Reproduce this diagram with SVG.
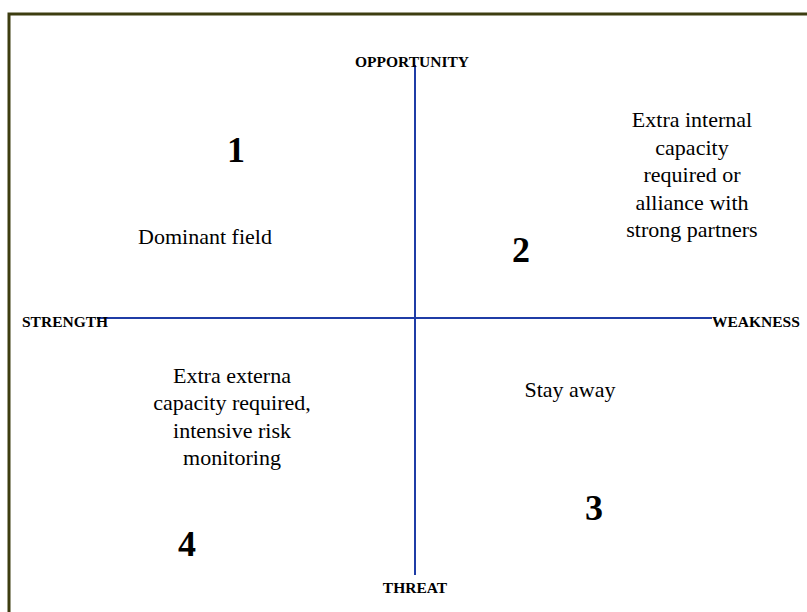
<svg xmlns="http://www.w3.org/2000/svg" width="807" height="612" viewBox="0 0 807 612">
<style>
.axislabel{font-family:"Liberation Serif","Times New Roman",serif;font-weight:bold;font-size:15.5px;fill:#000}
.body{font-family:"Liberation Serif","Times New Roman",serif;font-size:22px;fill:#000;text-anchor:middle}
.num{font-family:"Liberation Serif","Times New Roman",serif;font-weight:bold;font-size:36px;fill:#000;text-anchor:middle}
.axis{stroke:#1f3ca6;stroke-width:2;fill:none}
.frame{stroke:#3d3d10;stroke-width:3;fill:none}
</style>
<rect width="807" height="612" fill="#ffffff"/>
<path class="frame" d="M9,640 V14 H830"/>
<g id="connectors">
<line class="axis" x1="415" y1="65" x2="415" y2="575"/>
<line class="axis" x1="97" y1="318" x2="712" y2="318"/>
</g>
<g id="opportunity"><text class="axislabel" x="412" y="67" text-anchor="middle">OPPORTUNITY</text></g>
<g id="threat"><text class="axislabel" x="415" y="593" text-anchor="middle">THREAT</text></g>
<g id="strength"><text class="axislabel" x="22" y="327">STRENGTH</text></g>
<g id="weakness"><text class="axislabel" x="712" y="327">WEAKNESS</text></g>
<g id="q1">
<text class="num" x="236" y="162">1</text>
<text class="body" x="205" y="244">Dominant field</text>
</g>
<g id="q2">
<text class="num" x="521" y="262">2</text>
<text class="body" x="692" y="127">Extra internal</text>
<text class="body" x="692" y="155">capacity</text>
<text class="body" x="692" y="182">required or</text>
<text class="body" x="692" y="210">alliance with</text>
<text class="body" x="692" y="237">strong partners</text>
</g>
<g id="q3">
<text class="num" x="594" y="520">3</text>
<text class="body" x="570" y="397">Stay away</text>
</g>
<g id="q4">
<text class="num" x="187" y="556">4</text>
<text class="body" x="232" y="383">Extra externa</text>
<text class="body" x="232" y="410">capacity required,</text>
<text class="body" x="232" y="438">intensive risk</text>
<text class="body" x="232" y="465">monitoring</text>
</g>
</svg>
